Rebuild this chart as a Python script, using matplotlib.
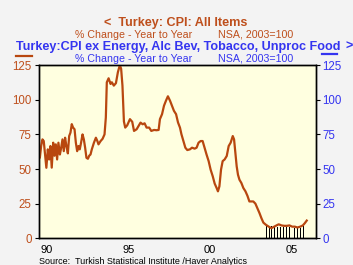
import matplotlib
matplotlib.use("Agg")
import matplotlib.pyplot as plt
from matplotlib.lines import Line2D

# ---- data (decimal years, % change y/y) ----
cpi_years = [
    1990.00, 1990.07, 1990.15, 1990.23, 1990.31, 1990.39, 1990.47, 1990.56, 1990.64, 1990.72,
    1990.80, 1990.89, 1990.97, 1991.05, 1991.13, 1991.21, 1991.30, 1991.38, 1991.46, 1991.54,
    1991.62, 1991.70, 1991.79, 1991.87, 1991.95, 1992.03, 1992.11, 1992.20, 1992.28, 1992.36,
    1992.44, 1992.52, 1992.60, 1992.69, 1992.77, 1992.85, 1992.93, 1993.02, 1993.10, 1993.18,
    1993.26, 1993.39, 1993.51, 1993.60, 1993.67, 1993.80, 1993.92, 1994.04, 1994.12, 1994.18,
    1994.29, 1994.41, 1994.49, 1994.61, 1994.74, 1994.86, 1994.98, 1995.06, 1995.14, 1995.23,
    1995.31, 1995.43, 1995.60, 1995.74, 1995.85, 1996.01, 1996.13, 1996.25, 1996.38, 1996.50,
    1996.62, 1996.78, 1996.91, 1997.08, 1997.23, 1997.36, 1997.44, 1997.57, 1997.69, 1997.81,
    1997.93, 1998.06, 1998.18, 1998.30, 1998.43, 1998.55, 1998.67, 1998.76, 1998.88, 1999.00,
    1999.12, 1999.28, 1999.41, 1999.57, 1999.69, 1999.81, 1999.94, 2000.06, 2000.18, 2000.30,
    2000.43, 2000.55, 2000.68, 2000.80, 2000.92, 2001.00, 2001.09, 2001.19, 2001.29, 2001.41,
    2001.54, 2001.66, 2001.78, 2001.91, 2001.99, 2002.07, 2002.15, 2002.23, 2002.32, 2002.44,
    2002.56, 2002.69, 2002.81, 2002.93, 2003.05, 2003.17, 2003.30, 2003.42, 2003.55, 2003.67,
    2003.79, 2003.95, 2004.12, 2004.28, 2004.45, 2004.61, 2004.73, 2004.90, 2005.06, 2005.23,
    2005.39, 2005.56, 2005.72, 2005.88, 2006.05, 2006.21, 2006.33, 2006.45,
]
cpi_values = [
    67.1, 58.1, 66.6, 71.4, 70.2, 60.5, 50.9, 64.2, 56.9, 66.6,
    51.0, 69.0, 59.6, 67.8, 56.9, 69.0, 60.5, 65.4, 71.4, 62.9,
    72.6, 66.6, 61.3, 73.8, 76.3, 82.4, 79.9, 78.7, 69.0, 62.9,
    66.6, 64.2, 69.0, 75.0, 71.4, 65.4, 58.1, 57.4, 59.6, 60.5,
    64.2, 69.0, 72.6, 70.2, 67.8, 70.2, 71.8, 75.0, 87.2, 112.6,
    115.5, 111.4, 112.6, 110.2, 112.0, 119.9, 125.0, 122.3, 110.2, 84.3,
    79.9, 81.5, 86.0, 84.1, 77.5, 78.7, 81.1, 83.5, 82.3, 83.0,
    79.9, 79.9, 77.5, 78.2, 78.0, 78.2, 86.0, 89.6, 95.7, 99.3,
    102.5, 99.3, 95.7, 92.0, 89.6, 83.6, 79.9, 75.1, 70.2, 65.4,
    63.7, 64.2, 65.4, 64.7, 65.4, 69.0, 70.2, 70.2, 65.4, 60.5,
    55.7, 49.6, 44.8, 39.5, 36.3, 33.9, 37.5, 49.6, 55.7, 56.9,
    59.4, 66.6, 69.0, 73.8, 71.4, 61.7, 52.0, 45.9, 42.3, 39.9,
    36.3, 33.9, 30.7, 26.6, 26.6, 26.6, 25.0, 21.8, 18.2, 14.5,
    11.3, 9.7, 8.4, 7.3, 8.4, 9.4, 10.1, 9.3, 9.0, 9.0,
    9.3, 8.4, 8.4, 7.8, 8.4, 9.3, 10.9, 12.8,
]
core_years = [2003.96, 2004.14, 2004.31, 2004.49, 2004.66, 2004.84, 2005.02,
              2005.19, 2005.37, 2005.54, 2005.72, 2005.90, 2006.07, 2006.25]
core_values = [9.7, 8.5, 8.9, 9.2, 8.5, 8.5, 8.5, 8.0, 8.0, 7.7, 7.3, 7.3, 7.7, 8.9]

x_tick_pos = [1990.5, 1995.5, 2000.5, 2005.5]
x_tick_labels = ["90", "95", "00", "05"]
y_ticks = [0, 25, 50, 75, 100, 125]

BROWN = "#B8470F"
BROWN_TXT = "#BE4F1C"
BLUE = "#3535F0"
W, H = 353, 265

plt.rcParams['font.family'] = ['Liberation Sans', 'DejaVu Sans']
fig = plt.figure(figsize=(W / 100, H / 100), dpi=100, facecolor="#F3F3F3")
rect = [38.7 / W, 1 - 238.3 / H, (315.7 - 38.7) / W, (238.3 - 64.7) / H]
fig.patches.append(plt.Rectangle(rect[:2], rect[2], rect[3], transform=fig.transFigure,
                                 facecolor="#FFFFE0", zorder=-5))
ax = fig.add_axes(rect)
ax2 = ax.twinx()
ax2.bar(core_years, core_values, width=0.05, color="black", linewidth=0, zorder=1)
ax.set_zorder(ax2.get_zorder() + 1)
ax.patch.set_visible(False)
ax2.patch.set_visible(False)

ax.plot(cpi_years, cpi_values, color=BROWN, lw=1.6, solid_joinstyle="round")

for a in (ax, ax2):
    a.set_xlim(1990, 2007)
    a.set_ylim(0, 125.3)
    for s in a.spines.values():
        s.set_color("black")
        s.set_linewidth(1.0)

ax.set_yticks(y_ticks)
ax.set_yticklabels([str(v) for v in y_ticks], color=BROWN_TXT, fontsize=8.3)
ax2.set_yticks(y_ticks)
ax2.set_yticklabels([str(v) for v in y_ticks], color=BLUE, fontsize=8.3)
ax.tick_params(axis="y", length=3, width=0.8, direction="out", pad=2)
ax2.tick_params(axis="y", length=3, width=0.8, direction="out", pad=2)
ax.set_xticks(x_tick_pos)
ax.set_xticklabels(x_tick_labels, fontsize=8.0, color="black")
ax.tick_params(axis="x", length=0, pad=4.5)

def fy(y):
    return 1 - y / H

fig.text(176 / W, fy(23), "<  Turkey: CPI: All Items", color=BROWN_TXT, fontsize=9.1,
         fontweight="bold", ha="center", va="center")
fig.text(75 / W, fy(34.5), "% Change - Year to Year", color=BROWN_TXT, fontsize=7.7,
         ha="left", va="center")
fig.text(218 / W, fy(34.5), "NSA, 2003=100", color=BROWN_TXT, fontsize=7.7,
         ha="left", va="center")
fig.text(16 / W, fy(47), "Turkey:CPI ex Energy, Alc Bev, Tobacco, Unproc Food", color=BLUE,
         fontsize=9.1, fontweight="bold", ha="left", va="center")
fig.text(346 / W, fy(47), ">", color=BLUE, fontsize=9.1, fontweight="bold", ha="left", va="center")
fig.text(75 / W, fy(58.5), "% Change - Year to Year", color=BLUE, fontsize=7.7,
         ha="left", va="center")
fig.text(218 / W, fy(58.5), "NSA, 2003=100", color=BLUE, fontsize=7.7,
         ha="left", va="center")
fig.lines.append(Line2D([16 / W, 32 / W], [fy(56), fy(56)], transform=fig.transFigure,
                        color=BROWN, lw=1.6))
fig.lines.append(Line2D([322 / W, 337 / W], [fy(54), fy(54)], transform=fig.transFigure,
                        color=BLUE, lw=1.6))
fig.text(39 / W, fy(261), "Source:  Turkish Statistical Institute /Haver Analytics",
         color="black", fontsize=6.5, ha="left", va="center")

fig.savefig("out.png", dpi=100, facecolor=fig.get_facecolor())
